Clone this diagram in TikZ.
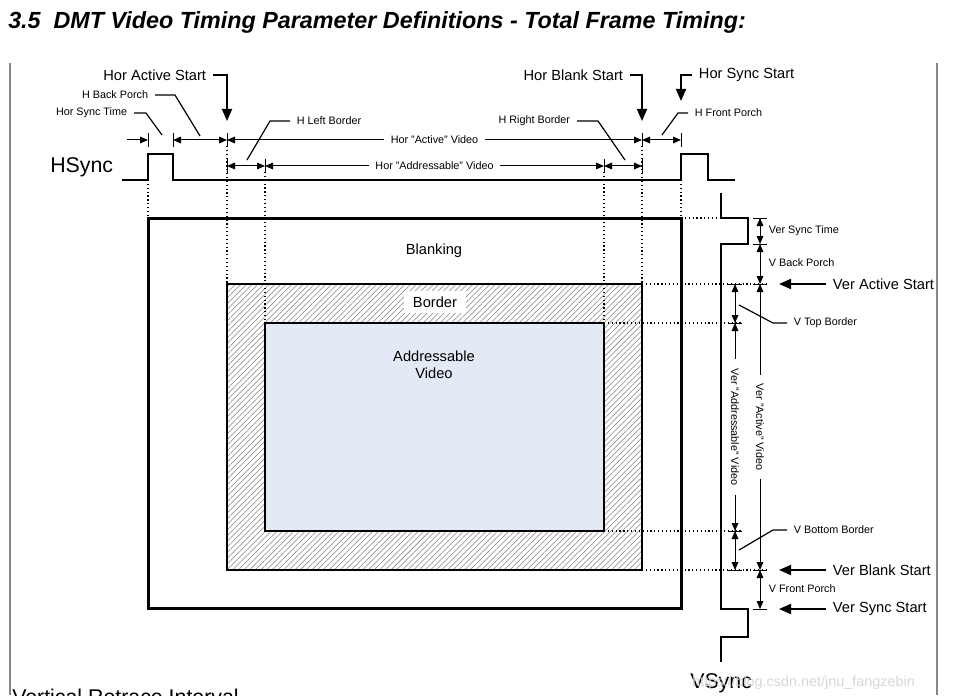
\documentclass[tikz,border=0pt]{standalone}
\usepackage{fontspec}
\setmainfont{Liberation Sans}
\usetikzlibrary{arrows.meta,patterns.meta}

\definecolor{addrblue}{RGB}{228,234,245}
\definecolor{framegray}{RGB}{135,135,135}
\definecolor{markgray}{RGB}{215,215,215}

\tikzset{
  >={Triangle[length=6pt,width=5pt]},
  sig/.style={line width=1.5pt},
  dots/.style={dotted, line width=0.9pt},
  tick/.style={line width=0.75pt},
  lead/.style={line width=0.9pt},
  callout/.style={line width=1.4pt, -{Triangle[length=9pt,width=7.5pt]}},
  lbl/.style={font=\fontsize{8.1}{9.7}\selectfont, inner xsep=5pt, inner ysep=1pt},
  biglbl/.style={font=\fontsize{11}{12.5}\selectfont, inner xsep=5pt, inner ysep=1pt},
  siglbl/.style={font=\fontsize{16}{19}\selectfont, inner sep=0pt},
}

\begin{document}
\begin{tikzpicture}[x=0.75pt,y=-0.75pt]
  \useasboundingbox (0,0) rectangle (955,695);

  \node[anchor=base west, inner sep=0pt, font=\fontsize{17.5}{21}\selectfont\bfseries\itshape] (title) at (8,29)
    {3.5\ \ DMT Video Timing Parameter Definitions - Total Frame Timing:};
  \draw[framegray, line width=1.5pt] (10,63) -- (10,695);
  \draw[framegray, line width=1.5pt] (937,63) -- (937,695);

  % frame areas
  \draw[line width=2.25pt] (148,218) rectangle (681,608);
  \draw[line width=1.5pt, pattern={Lines[angle=45,distance=3pt,line width=0.4pt]}, pattern color=gray] (227,284) rectangle (642,570);
  \draw[line width=1.5pt, fill=addrblue] (265,323) rectangle (604,531);
  \node[biglbl] (blank) at (434,251) {Blanking};
  \node[biglbl, fill=white, inner xsep=7pt, inner ysep=4pt] (border) at (435,302) {Border};
  \node[biglbl, align=center] (addr) at (434,365) {Addressable\\Video};

  % sync signals
  \draw[sig] (122,180) -- (148,180) -- (148,154) -- (173,154) -- (173,180) -- (681,180) -- (681,154) -- (708,154) -- (708,180) -- (735,180);
  \draw[sig] (721,193) -- (721,218) -- (748,218) -- (748,244) -- (721,244) -- (721,609) -- (748,609) -- (748,637) -- (721,637) -- (721,662);
  \node[siglbl, anchor=west] (hsync) at (50,167) {HSync};
  \node[siglbl, anchor=west] (vsync) at (690,683) {VSync};

  % dotted extension lines
  \foreach \x/\a/\b in {148/180/218, 681/180/218, 227/146/284, 642/146/284, 265/172/323, 604/172/323}
    \draw[dots] (\x,\a) -- (\x,\b);
  \foreach \y/\a/\b in {218/681/721, 284/642/767, 323/604/742, 531/604/742, 570/642/767}
    \draw[dots] (\a,\y) -- (\b,\y);

  % ticks
  \foreach \x in {148,173,227,642,681} \draw[tick] (\x,133) -- (\x,147);
  \foreach \x in {227,265,604,642} \draw[tick] (\x,159) -- (\x,173);
  \foreach \y in {218,244,284,570,609} \draw[tick] (753,\y) -- (767,\y);
  \foreach \y in {284,323,531,570} \draw[tick] (728,\y) -- (742,\y);

  % horizontal dimensions
  \draw[tick, ->] (127,140) -- (148,140);
  \draw[tick, <->] (173,140) -- (227,140);
  \draw[tick, <->] (227,140) -- (642,140) node[midway, fill=white, lbl] (hact) {Hor "Active" Video};
  \draw[tick, <->] (642,140) -- (681,140);
  \draw[tick, <->] (227,166) -- (265,166);
  \draw[tick, <->] (265,166) -- (604,166) node[midway, fill=white, lbl] (hadr) {Hor "Addressable" Video};
  \draw[tick, <->] (604,166) -- (642,166);

  % vertical dimensions
  \draw[tick, <->] (760,218) -- (760,244);
  \draw[tick, <->] (760,244) -- (760,284);
  \draw[tick, <->] (760,284) -- (760,570) node[midway, fill=white, lbl, rotate=-90, inner xsep=7pt] (vact) {Ver "Active" Video};
  \draw[tick, <->] (760,570) -- (760,609);
  \draw[tick, <->] (735,284) -- (735,323);
  \draw[tick, <->] (735,323) -- (735,531) node[midway, fill=white, lbl, rotate=-90, inner xsep=7pt] (vadr) {Ver "Addressable" Video};
  \draw[tick, <->] (735,531) -- (735,570);

  % top labels
  \node[biglbl, anchor=east] (hastart) at (213,75) {Hor Active Start};
  \node[biglbl, anchor=east] (hbstart) at (630,75) {Hor Blank Start};
  \node[biglbl, anchor=west] (hsstart) at (692,75) {Hor Sync Start};
  \node[lbl, anchor=east] (hbp) at (155,95) {H Back Porch};
  \node[lbl, anchor=east] (hst) at (134,113) {Hor Sync Time};
  \node[lbl, anchor=west] (hlb) at (290,121) {H Left Border};
  \node[lbl, anchor=east] (hrb) at (577,121) {H Right Border};
  \node[lbl, anchor=west] (hfp) at (688,113) {H Front Porch};
  \coordinate (hastip) at (227,121);
  \coordinate (hbstip) at (642,121);
  \coordinate (hsstip) at (681,101);
  \draw[callout] (hastart.east) -| (hastip);
  \draw[callout] (hbstart.east) -| (hbstip);
  \draw[callout] (hsstart.west) -| (hsstip);
  \draw[lead] (hbp.east) -- (175,95) -- (200,136);
  \draw[lead] (hst.east) -- (146,113) -- (162,135);
  \draw[lead] (hlb.west) -- (270,121) -- (247,160);
  \draw[lead] (hrb.east) -- (598,121) -- (625,160);
  \draw[lead] (hfp.west) -- (678,113) -- (662,135);

  % right labels
  \node[lbl, anchor=west] (vst) at (762,231) {Ver Sync Time};
  \node[lbl, anchor=west] (vbp) at (762,263) {V Back Porch};
  \node[lbl, anchor=west] (vfp) at (762,589) {V Front Porch};
  \node[lbl, anchor=west] (vtb) at (787,323) {V Top Border};
  \node[lbl, anchor=west] (vbb) at (787,530) {V Bottom Border};
  \node[biglbl, anchor=west] (vastart) at (826,284) {Ver Active Start};
  \node[biglbl, anchor=west] (vbstart) at (826,570) {Ver Blank Start};
  \node[biglbl, anchor=west] (vsstart) at (826,609) {Ver Sync Start};
  \coordinate (vastip) at (779,284);
  \coordinate (vbstip) at (779,570);
  \coordinate (vsstip) at (779,609);
  \draw[callout] (vastart.west) -- (vastip);
  \draw[callout] (vbstart.west) -- (vbstip);
  \draw[callout] (vsstart.west) -- (vsstip);
  \draw[lead] (vtb.west) -- (773,323) -- (739,305);
  \draw[lead] (vbb.west) -- (773,530) -- (739,550);

  \node[siglbl, anchor=base west] (retrace) at (12,704) {Vertical Retrace Interval};
  \node[anchor=west, text=markgray, font=\fontsize{10.8}{13}\selectfont, inner sep=0pt] (mark) at (692,683) {https://blog.csdn.net/jnu\_fangzebin};
\end{tikzpicture}
\end{document}
